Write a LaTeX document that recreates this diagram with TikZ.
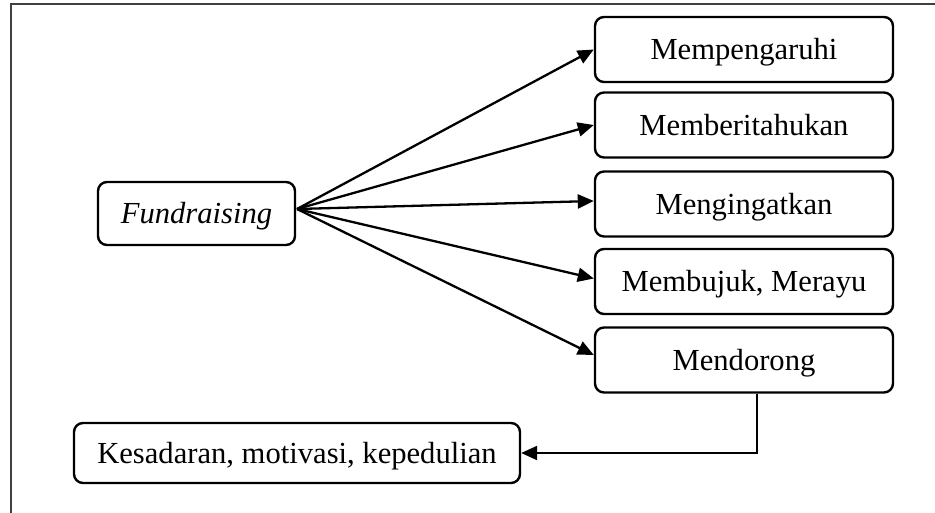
\documentclass[tikz,border=0pt]{standalone}
\usepackage{fontspec}
\setmainfont{Liberation Serif}
\usetikzlibrary{arrows.meta,calc}
\begin{document}
\begin{tikzpicture}[x=1pt,y=-1pt,
  box/.style={draw,line width=2.4pt,rounded corners=9pt,inner sep=0pt,
    text height=20.3pt,text depth=0pt,
    font=\fontsize{30.6}{36}\selectfont},
  rbox/.style={box,minimum width=298pt,minimum height=65pt},
  conn/.style={line width=2.3pt,-{Triangle[length=16pt,width=14pt]}}]
\useasboundingbox (0,0) rectangle (935,513);
\draw[line width=2pt,color=black!75] (11,513) -- (11,4) -- (935,4);
\node[box,minimum width=197pt,minimum height=63pt] (fund) at (196.5,213.5) {\itshape Fundraising};
\node[rbox] (b1) at (744,49.5) {Mempengaruhi};
\node[rbox] (b2) at (744,125) {Memberitahukan};
\node[rbox] (b3) at (744,204) {Mengingatkan};
\node[rbox] (b4) at (744,281.5) {Membujuk, Merayu};
\node[rbox] (b5) at (744,360) {Mendorong};
\node[box,minimum width=446pt,minimum height=60pt] (kes) at (297,453) {Kesadaran, motivasi, kepedulian};
\coordinate (src) at (297,209);
\draw[conn] (src) -- ([yshift=0pt]b1.west);
\draw[conn] (src) -- ([yshift=0pt]b2.west);
\draw[conn] (src) -- ([yshift=3pt]b3.west);
\draw[conn] (src) -- ([yshift=3pt]b4.west);
\draw[conn] (src) -- ([yshift=5pt]b5.west);
\draw[conn] ([xshift=13pt]b5.south) |- (kes.east);
\end{tikzpicture}
\end{document}
